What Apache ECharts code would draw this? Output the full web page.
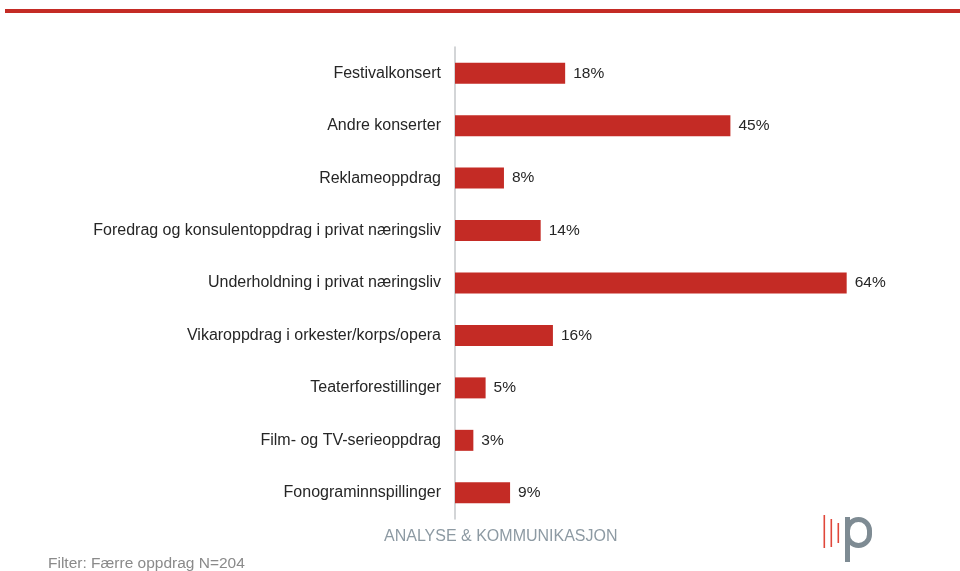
<!DOCTYPE html>
<html>
<head>
<meta charset="utf-8">
<script src="https://cdn.jsdelivr.net/npm/echarts@6/dist/echarts.min.js"></script>
<style>
  html, body { margin: 0; padding: 0; background: #fff; }
  #chart { width: 960px; height: 571px; }
</style>
</head>
<body>
<div id="chart"></div>
<script>
// Oppdragstyper (andel i prosent)
const categories = [
  'Festivalkonsert',
  'Andre konserter',
  'Reklameoppdrag',
  'Foredrag og konsulentoppdrag i privat næringsliv',
  'Underholdning i privat næringsliv',
  'Vikaroppdrag i orkester/korps/opera',
  'Teaterforestillinger',
  'Film- og TV-serieoppdrag',
  'Fonograminnspillinger'
];
const values = [18, 45, 8, 14, 64, 16, 5, 3, 9];
const footerText = 'ANALYSE & KOMMUNIKASJON';
const filterText = 'Filter: Færre oppdrag N=204';

const RED = '#c42b25';
const FONT = 'Liberation Sans, Arial, sans-serif';
const chart = echarts.init(document.getElementById('chart'), null, { renderer: 'canvas' });

chart.setOption({
  animation: false,
  backgroundColor: '#ffffff',
  grid: { left: 455, top: 47, height: 472, width: 428.4 },
  xAxis: {
    type: 'value', min: 0, max: 70,
    show: false
  },
  yAxis: {
    type: 'category',
    inverse: true,
    data: categories,
    axisLine: { show: true, lineStyle: { color: '#c4c7ca', width: 1.5 } },
    axisTick: { show: false },
    axisLabel: {
      margin: 14,
      color: '#262626',
      fontFamily: FONT,
      fontSize: 16
    }
  },
  series: [{
    type: 'bar',
    data: values,
    barWidth: 21,
    itemStyle: { color: RED },
    label: {
      show: true,
      position: 'right',
      distance: 8,
      formatter: p => p.value + '%',
      color: '#262626',
      fontFamily: FONT,
      fontSize: 15.5
    }
  }],
  graphic: [
    // top rule
    { type: 'rect', shape: { x: 5, y: 9, width: 955, height: 4 }, style: { fill: RED } },
    // footer name
    {
      type: 'text', left: 384, top: 529,
      style: {
        text: footerText, fill: '#8d9aa3',
        font: '16px "Liberation Sans", Arial, sans-serif'
      }
    },
    // filter note
    {
      type: 'text', left: 48, top: 556,
      style: {
        text: filterText, fill: '#8a8a8a',
        font: '15.5px "Liberation Sans", Arial, sans-serif'
      }
    },
    // logo: three red strokes
    { type: 'rect', shape: { x: 823.5, y: 515, width: 1.6, height: 33 }, style: { fill: '#e0473a' } },
    { type: 'rect', shape: { x: 830.5, y: 519, width: 1.6, height: 28 }, style: { fill: '#e0473a' } },
    { type: 'rect', shape: { x: 837.5, y: 523, width: 1.6, height: 20 }, style: { fill: '#e0473a' } },
    // logo: grey "p"
    { type: 'rect', shape: { x: 845, y: 517, width: 5, height: 45 }, style: { fill: '#7e8b93' } },
    {
      type: 'rect', shape: { x: 847.5, y: 519.5, width: 22, height: 26, r: [11, 11, 11, 11] },
      style: { fill: 'none', stroke: '#7e8b93', lineWidth: 5 }
    }
  ]
});
</script>
</body>
</html>
